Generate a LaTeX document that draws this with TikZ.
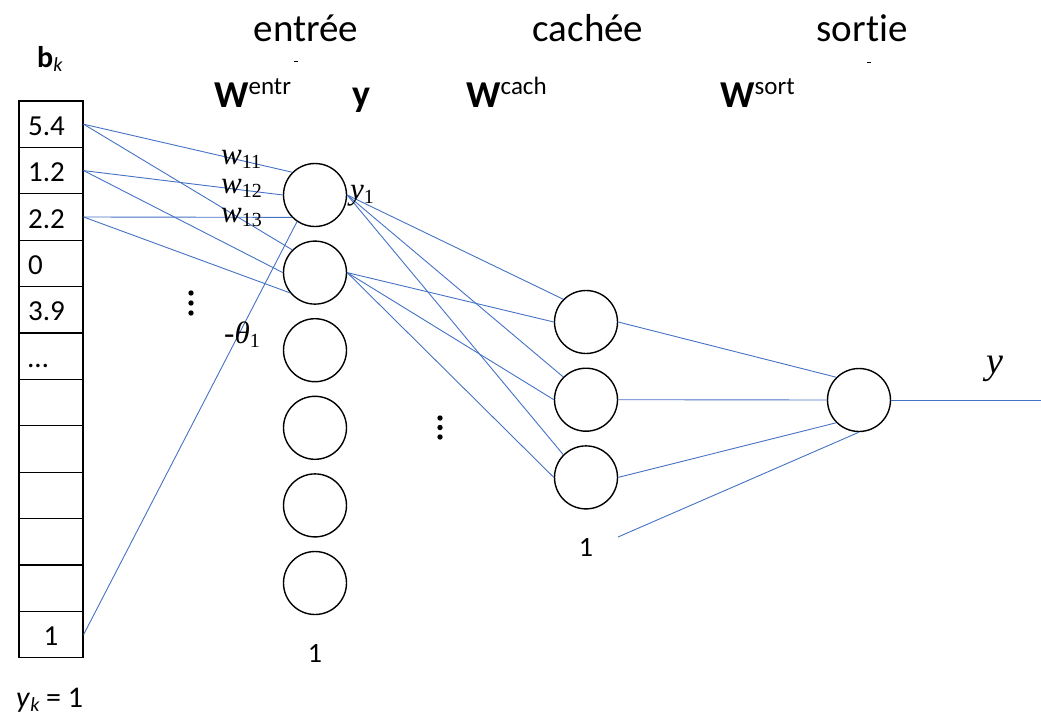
\documentclass[tikz,border=0pt]{standalone}
\usepackage{fontspec}
\setmainfont{Carlito}[Ligatures=NoCommon]
\newfontfamily\tms{Liberation Serif}
\definecolor{linkblue}{RGB}{68,114,196}
% italic serif symbol with an upright lowered index
\newcommand\serifsub[2]{{\tms\itshape #1}\raisebox{-4pt}{\fontsize{20}{20}\selectfont\tms #2}}
\begin{document}
\begin{tikzpicture}[x=1pt,y=-1pt,
  neuron/.style={circle,draw,line width=1.4pt,minimum size=63pt,inner sep=0pt},
  cell/.style={rectangle,draw,line width=1.2pt,minimum width=64pt,minimum height=46.4pt,inner sep=0pt},
  link/.style={draw=linkblue,line width=0.9pt},
  head/.style={font=\fontsize{39}{39}\selectfont,anchor=base,inner sep=0pt},
  matlab/.style={font=\fontsize{38}{38}\selectfont,anchor=base west,inner sep=0pt},
  celltext/.style={font=\fontsize{29}{29}\selectfont,anchor=base west,inner sep=0pt},
  numlab/.style={font=\fontsize{28}{28}\selectfont,anchor=base,inner sep=0pt},
  serif/.style={font=\fontsize{31}{31}\selectfont,anchor=base west,inner sep=0pt},
  vdot/.style={circle,fill,inner sep=0pt,minimum size=5.4pt},
  tick/.style={line width=0.8pt}
]
\useasboundingbox (0,0) rectangle (1041,717);

% layer headings
\node[head] (hin)  at (306,42) {entrée};
\node[head] (hhid) at (588,42) {cachée};
\node[head] (hout) at (862,42) {sortie};
\draw[tick] (294,61) -- (298,61);
\draw[tick] (867,62) -- (871,62);

% weight matrices and the entry output vector
\node[matlab] (went) at (214,107) {\textbf{W}\raisebox{13pt}{\fontsize{25}{25}\selectfont entr}};
\node[matlab] (yvec) at (352,106) {\textbf{y}};
\node[matlab] (wcach) at (466,107) {\textbf{W}\raisebox{13pt}{\fontsize{25}{25}\selectfont cach}};
\node[matlab] (wsort) at (720,107) {\textbf{W}\raisebox{13pt}{\fontsize{25}{25}\selectfont sort}};

% input vector b_k
\node[anchor=base west,inner sep=0pt,font=\fontsize{30}{30}\selectfont] (bk) at (37,67)
  {\textbf{b}\raisebox{-4pt}{\fontsize{20}{20}\selectfont\itshape k}};
\foreach \i in {1,...,12}
  \node[cell] (c\i) at (51,{101+46.4*(\i-0.5)}) {};
\foreach \i/\v in {1/5.4,2/1.2,3/2.2,4/0,5/3.9,6/…}
  \node[celltext] (t\i) at (28,{101+46.4*(\i-0.5)+11}) {\v};
\node[celltext,anchor=base] (t12) at (51,{101+46.4*11.5+11}) {1};
\node[anchor=base west,inner sep=0pt,font=\fontsize{30}{30}\selectfont] (yk) at (16,707)
  {\textit{y}\raisebox{-4pt}{\fontsize{20}{20}\selectfont\itshape k} = 1};

% entry layer
\foreach \i in {1,...,6}
  \node[neuron] (e\i) at (315,{195+77.6*(\i-1)}) {};
\node[numlab] (one1) at (315,662) {1};

% hidden layer
\foreach \i in {1,2,3}
  \node[neuron] (h\i) at (586,{322+77.7*(\i-1)}) {};
\node[numlab] (one2) at (586,556) {1};
\coordinate (bias2) at (618,537);

% output neuron
\node[neuron] (o) at (859,400) {};
\coordinate (yout) at (1041,400);

% vertical ellipses
\foreach \k in {0,1,2} {
  \node[vdot] (da\k) at (191,{293+10*\k}) {};
  \node[vdot] (db\k) at (440,{418+9.5*\k}) {};
}

% input connections
\foreach \n in {1,2} {
  \draw[link] (c1.east) -- (e\n.135);
  \draw[link] (c2.east) -- (e\n.west);
}
\draw[link] (c3.east) -- (e1.224);
\draw[link] (c3.east) -- (e2.219);
\draw[link] (c12.east) -- (e1.236);

% entry to hidden
\foreach \h in {1,2,3} {
  \draw[link] (e1.east) -- (h\h.135);
  \draw[link] (e2.east) -- (h\h.west);
}

% hidden to output
\draw[link] (h1.east) -- (o.135);
\draw[link] (h2.east) -- (o.west);
\draw[link] (h3.east) -- (o.225);
\draw[link] (bias2) -- (o.south);
\draw[link] (o.east) -- (yout);

% weight and bias labels
\node[serif] (w11) at (221,164) {\serifsub{w}{11}};
\node[serif] (w12) at (221,193) {\serifsub{w}{12}};
\node[serif] (w13) at (221,222) {\serifsub{w}{13}};
\node[serif] (y1) at (350,199) {\serifsub{y}{1}};
\node[serif] (th1) at (224,343) {{\tms -}\serifsub{θ}{1}};
\node[serif,font=\fontsize{38}{38}\selectfont] (ylab) at (986,373) {{\tms\itshape y}};
\end{tikzpicture}
\end{document}
